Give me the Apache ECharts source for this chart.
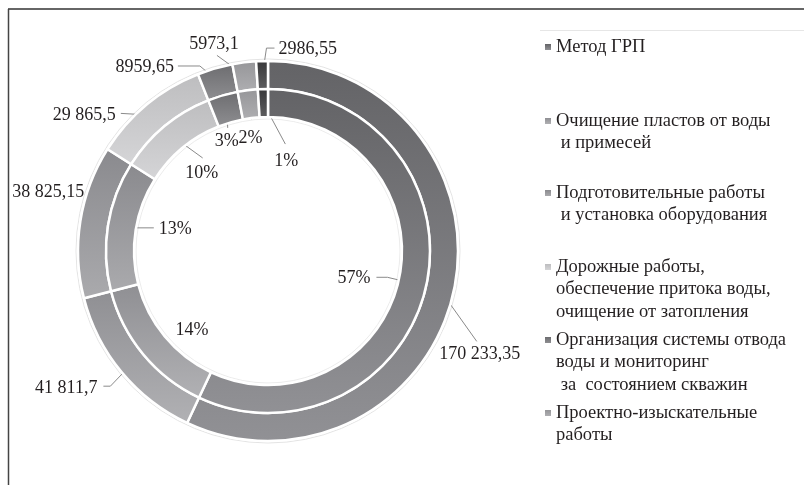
<!DOCTYPE html>
<html><head><meta charset="utf-8">
<script src="https://cdn.jsdelivr.net/npm/echarts@6/dist/echarts.min.js"></script>
<style>html,body{margin:0;padding:0;background:#fff}#c{width:804px;height:485px}</style>
</head><body><div id="c"></div>
<script>
// ---- data ----
const categories = [
  'Метод ГРП',
  'Очищение пластов от воды\n и примесей',
  'Подготовительные работы\n и установка оборудования',
  'Дорожные работы,\nобеспечение притока воды,\nочищение от затопления',
  'Организация системы отвода\nводы и мониторинг\n за  состоянием скважин',
  'Проектно-изыскательные\nработы',
  ''
];
const values = [170233.35, 41811.7, 38825.15, 29865.5, 8959.65, 5973.1, 2986.55];
const legendNames = categories.slice(0, 6);

// ---- style ----
const FONT = 'Liberation Serif';
const CX = 268, CY = 251;
const OUTER_R = [162, 190], INNER_R = [134, 162];
const colors = [
  ['#636366', '#919195'], ['#8f8f93', '#b1b1b4'], ['#8a8a8e', '#aaaaad'],
  ['#bdbdbf', '#d5d5d7'], ['#6c6c6f', '#8f8f92'], ['#959598', '#afafb2'], ['#363638', '#5f5f61']
];
const outerSpec = [
  {pts: [[37, 52]], off: [3, 4], align: 'center', va: 'top'},
  {pts: [[-22, 23], [-29, 23]], off: [-6, 2], align: 'right', va: 'middle'},
  {pts: [], off: [-10, -31], align: 'right', va: 'middle'},
  {pts: [[-35, -2]], off: [-5, 2], align: 'right', va: 'middle'},
  {pts: [[-19, -16], [-41, -16]], off: [-4, 1], align: 'right', va: 'middle'},
  {pts: [[-29, -21]], off: [-3, -2], align: 'center', va: 'bottom'},
  {pts: [[4, -27], [12, -27]], off: [4, 1], align: 'left', va: 'middle'}
];
const innerSpec = [
  {pts: [[-25, -6], [-36, -6]], off: [-6, 1], align: 'right', va: 'middle'},
  {pts: [], off: [38, -15], align: 'center', va: 'middle'},
  {pts: [[32, 0]], off: [5, 1], align: 'left', va: 'middle'},
  {pts: [[29, 21]], off: [-1, 6], align: 'center', va: 'top'},
  {pts: [[1, 19]], off: [-1, 4], align: 'center', va: 'top'},
  {pts: [[2, 15]], off: [-1, 10], align: 'center', va: 'top'},
  {pts: [[22, 41]], off: [1, 8], align: 'center', va: 'top'}
];
const legendIconY = [47, 121, 193, 267, 340, 413];
const LH = 22.5;

const total = values.reduce((a, b) => a + b, 0);
const mids = [];
(function () { let c = 0; values.forEach(v => { mids.push((c + v / 2) / total * 2 * Math.PI); c += v; }); })();
function anchorPt(i, r) { return [CX + r * Math.sin(mids[i]), CY - r * Math.cos(mids[i])]; }
function fmt(v) {
  const parts = String(v).split('.');
  let ip = parts[0];
  if (ip.length > 4) ip = ip.replace(/\B(?=(\d{3})+(?!\d))/g, ' ');
  return parts.length > 1 ? ip + ',' + parts[1] : ip;
}
function makeLayout(spec, r) {
  return function (p) {
    const s = spec[p.dataIndex];
    const a = anchorPt(p.dataIndex, r);
    const pts = [a].concat(s.pts.map(d => [a[0] + d[0], a[1] + d[1]]));
    const end = pts[pts.length - 1];
    return {
      x: end[0] + s.off[0], y: end[1] + s.off[1],
      align: s.align, verticalAlign: s.va,
      labelLinePoints: pts.length > 1 ? pts : [a, a]
    };
  };
}
function grad(c) {
  return new echarts.graphic.LinearGradient(0, 0, 0, 1, [{offset: 0, color: c[0]}, {offset: 1, color: c[1]}]);
}
const data = values.map((v, i) => ({
  name: categories[i], value: v,
  itemStyle: {color: grad(colors[i])}
}));

const labelStyle = {fontFamily: FONT, fontSize: 18, color: '#231f20'};
const chart = echarts.init(document.getElementById('c'), null, {renderer: 'canvas'});
chart.setOption({
  animation: false,
  backgroundColor: '#fff',
  graphic: [
    {type: 'line', shape: {x1: 8, y1: 9, x2: 804, y2: 9}, style: {stroke: '#666', lineWidth: 2}},
    {type: 'line', shape: {x1: 8.5, y1: 9, x2: 8.5, y2: 485}, style: {stroke: '#444', lineWidth: 1.5}},
    {type: 'line', shape: {x1: 540, y1: 30.5, x2: 804, y2: 30.5}, style: {stroke: '#e6e6e6', lineWidth: 1}},
    {type: 'circle', shape: {cx: CX, cy: CY, r: 192}, style: {fill: 'none', stroke: '#e4e4e4', lineWidth: 1}},
    {type: 'circle', shape: {cx: CX, cy: CY, r: 132}, style: {fill: 'none', stroke: '#ececec', lineWidth: 1}}
  ],
  legend: legendNames.map((name, i) => {
    const n = name.split('\n').length;
    const H = (2 * n - 1) * LH;
    return {
      data: [name], left: 545, top: legendIconY[i] - H / 2, orient: 'vertical', padding: 0,
      itemWidth: 6, itemHeight: 6, icon: 'rect', selectedMode: false,
      itemStyle: {borderWidth: 0},
      formatter: nm => '\n'.repeat(n - 1) + nm,
      textStyle: {fontFamily: FONT, fontSize: 18.5, lineHeight: LH, color: '#231f20'}
    };
  }),
  series: [
    {
      type: 'pie', name: 'outer', center: [CX, CY], radius: OUTER_R, startAngle: 90, clockwise: true,
      avoidLabelOverlap: false, percentPrecision: 0,
      itemStyle: {borderColor: '#fff', borderWidth: 2.5},
      label: Object.assign({show: true, position: 'outside', formatter: p => fmt(p.value)}, labelStyle),
      labelLine: {show: true, lineStyle: {color: '#8a8a8a', width: 1}},
      labelLayout: makeLayout(outerSpec, (OUTER_R[0] + OUTER_R[1]) / 2),
      emphasis: {disabled: true},
      data: data
    },
    {
      type: 'pie', name: 'inner', center: [CX, CY], radius: INNER_R, startAngle: 90, clockwise: true,
      avoidLabelOverlap: false, percentPrecision: 0,
      itemStyle: {borderColor: '#fff', borderWidth: 2.5},
      label: Object.assign({show: true, position: 'outside', formatter: '{d}%'}, labelStyle),
      labelLine: {show: true, lineStyle: {color: '#8a8a8a', width: 1}},
      labelLayout: makeLayout(innerSpec, (INNER_R[0] + INNER_R[1]) / 2),
      emphasis: {disabled: true},
      data: data
    }
  ]
});
</script></body></html>
